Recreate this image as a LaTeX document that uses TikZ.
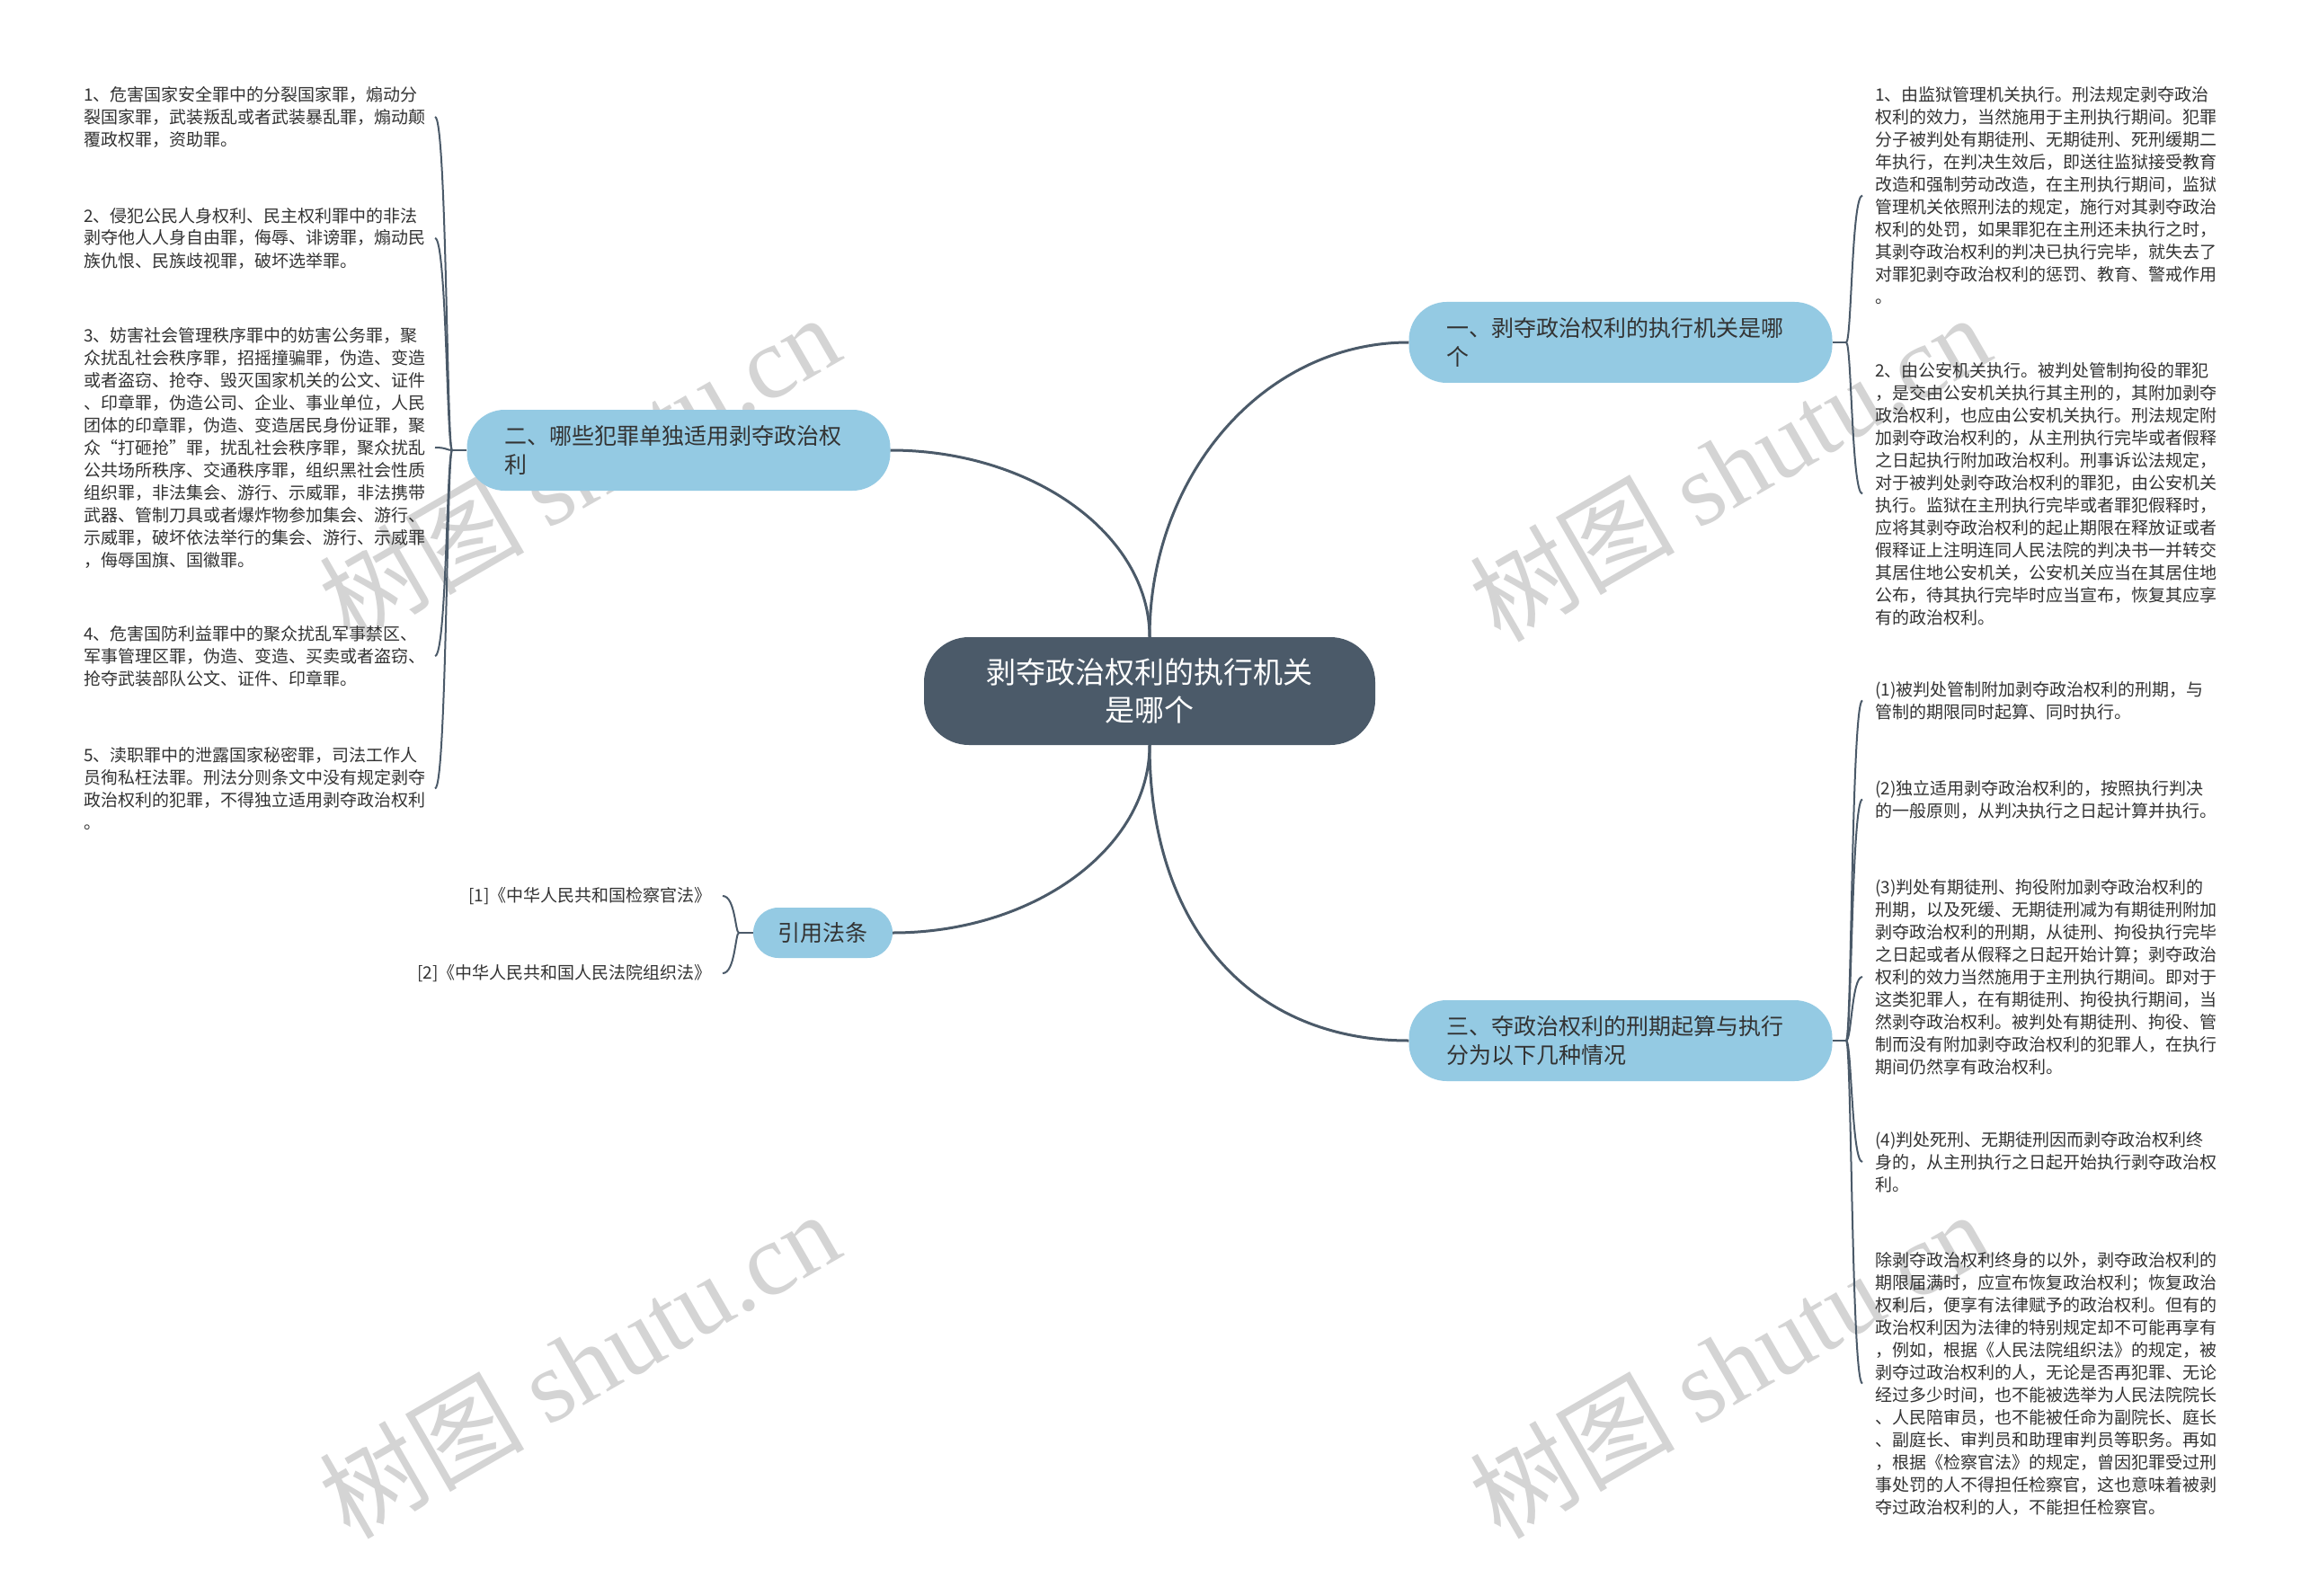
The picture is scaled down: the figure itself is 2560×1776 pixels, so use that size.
\documentclass[tikz,border=0pt]{standalone}
\usepackage{fontspec}
\setmainfont{Noto Sans CJK SC}
\newfontfamily\wmlatin{Liberation Serif}
\usetikzlibrary{calc}
\definecolor{cdark}{HTML}{4B5A69}
\definecolor{cblue}{HTML}{94CAE3}
\definecolor{ctext}{HTML}{333333}
\definecolor{cline}{HTML}{4B5A69}
\definecolor{cwm}{HTML}{D4D4D4}
\begin{document}
\begin{tikzpicture}[x=1pt,y=-1pt,
  root/.style={fill=cdark, rounded corners=50pt, minimum width=502pt, minimum height=120pt, text=white, align=center, font=\fontsize{33}{42}\selectfont, inner sep=0pt},
  branch/.style={fill=cblue, rounded corners=42pt, minimum height=90pt, text=ctext, align=left, text width=387pt, font=\fontsize{25}{32}\selectfont, inner xsep=42pt, inner ysep=0pt},
  refbox/.style={fill=cblue, rounded corners=28pt, minimum width=155pt, minimum height=56pt, text=ctext, font=\fontsize{25}{32}\selectfont, inner sep=0pt},
  leaf/.style={text=ctext, align=left, inner sep=0pt, font=\fontsize{19}{25}\selectfont, anchor=west},
  refleaf/.style={text=ctext, align=right, inner sep=0pt, font=\fontsize{19}{25}\selectfont, anchor=east},
  trunk/.style={draw=cline, line width=3pt},
  twig/.style={draw=cline, line width=2pt},
  wm/.style={rotate=30, text=cwm, font=\fontsize{114}{114}\selectfont, inner sep=0pt}
]
\useasboundingbox (0,0) rectangle (2560,1776);
\fill[white] (0,0) rectangle (2560,1776);

% watermarks
\node[wm] (w1) at (644,520) {树图 {\wmlatin shutu.cn}};
\node[wm] (w2) at (1924,520) {树图 {\wmlatin shutu.cn}};
\node[wm] (w3) at (644,1518) {树图 {\wmlatin shutu.cn}};
\node[wm] (w4) at (1924,1518) {树图 {\wmlatin shutu.cn}};

% main nodes
\node[root] (c) at (1279,769) {剥夺政治权利的执行机关\\是哪个};
\node[branch] (n1) at (1803,381) {一、剥夺政治权利的执行机关是哪\\个};
\node[branch] (n2) at (755,501) {二、哪些犯罪单独适用剥夺政治权\\利};
\node[branch] (n3) at (1803,1158) {三、夺政治权利的刑期起算与执行\\分为以下几种情况};
\node[refbox] (n4) at (915.5,1038) {引用法条};

% main connectors
\draw[trunk] (c.north) .. controls (1279,530) and (1405,381) .. (n1.west);
\draw[trunk] (c.north) .. controls (1279,595) and (1149,501) .. (n2.east);
\draw[trunk] (c.south) .. controls (1279,944) and (1150,1038) .. (n4.east);
\draw[trunk] (c.south) .. controls (1279,1030) and (1390,1158) .. (n3.west);

% left leaves
\node[leaf] (L1) at (93,130) {1、危害国家安全罪中的分裂国家罪，煽动分\\裂国家罪，武装叛乱或者武装暴乱罪，煽动颠\\覆政权罪，资助罪。};
\node[leaf] (L2) at (93,265) {2、侵犯公民人身权利、民主权利罪中的非法\\剥夺他人人身自由罪，侮辱、诽谤罪，煽动民\\族仇恨、民族歧视罪，破坏选举罪。};
\node[leaf] (L3) at (93,498) {3、妨害社会管理秩序罪中的妨害公务罪，聚\\众扰乱社会秩序罪，招摇撞骗罪，伪造、变造\\或者盗窃、抢夺、毁灭国家机关的公文、证件\\、印章罪，伪造公司、企业、事业单位，人民\\团体的印章罪，伪造、变造居民身份证罪，聚\\众“打砸抢”罪，扰乱社会秩序罪，聚众扰乱\\公共场所秩序、交通秩序罪，组织黑社会性质\\组织罪，非法集会、游行、示威罪，非法携带\\武器、管制刀具或者爆炸物参加集会、游行、\\示威罪，破坏依法举行的集会、游行、示威罪\\，侮辱国旗、国徽罪。};
\node[leaf] (L4) at (93,730) {4、危害国防利益罪中的聚众扰乱军事禁区、\\军事管理区罪，伪造、变造、买卖或者盗窃、\\抢夺武装部队公文、证件、印章罪。};
\node[leaf] (L5) at (93,877.5) {5、渎职罪中的泄露国家秘密罪，司法工作人\\员徇私枉法罪。刑法分则条文中没有规定剥夺\\政治权利的犯罪，不得独立适用剥夺政治权利\\。};

% right leaves (branch 1)
\node[leaf] (R1) at (2086,217.5) {1、由监狱管理机关执行。刑法规定剥夺政治\\权利的效力，当然施用于主刑执行期间。犯罪\\分子被判处有期徒刑、无期徒刑、死刑缓期二\\年执行，在判决生效后，即送往监狱接受教育\\改造和强制劳动改造，在主刑执行期间，监狱\\管理机关依照刑法的规定，施行对其剥夺政治\\权利的处罚，如果罪犯在主刑还未执行之时，\\其剥夺政治权利的判决已执行完毕，就失去了\\对罪犯剥夺政治权利的惩罚、教育、警戒作用\\。};
\node[leaf] (R2) at (2086,549.5) {2、由公安机关执行。被判处管制拘役的罪犯\\，是交由公安机关执行其主刑的，其附加剥夺\\政治权利，也应由公安机关执行。刑法规定附\\加剥夺政治权利的，从主刑执行完毕或者假释\\之日起执行附加政治权利。刑事诉讼法规定，\\对于被判处剥夺政治权利的罪犯，由公安机关\\执行。监狱在主刑执行完毕或者罪犯假释时，\\应将其剥夺政治权利的起止期限在释放证或者\\假释证上注明连同人民法院的判决书一并转交\\其居住地公安机关，公安机关应当在其居住地\\公布，待其执行完毕时应当宣布，恢复其应享\\有的政治权利。};

% right leaves (branch 3)
\node[leaf] (S1) at (2086,779.5) {(1)被判处管制附加剥夺政治权利的刑期，与\\管制的期限同时起算、同时执行。};
\node[leaf] (S2) at (2086,889.5) {(2)独立适用剥夺政治权利的，按照执行判决\\的一般原则，从判决执行之日起计算并执行。};
\node[leaf] (S3) at (2086,1087) {(3)判处有期徒刑、拘役附加剥夺政治权利的\\刑期，以及死缓、无期徒刑减为有期徒刑附加\\剥夺政治权利的刑期，从徒刑、拘役执行完毕\\之日起或者从假释之日起开始计算；剥夺政治\\权利的效力当然施用于主刑执行期间。即对于\\这类犯罪人，在有期徒刑、拘役执行期间，当\\然剥夺政治权利。被判处有期徒刑、拘役、管\\制而没有附加剥夺政治权利的犯罪人，在执行\\期间仍然享有政治权利。};
\node[leaf] (S4) at (2086,1293) {(4)判处死刑、无期徒刑因而剥夺政治权利终\\身的，从主刑执行之日起开始执行剥夺政治权\\利。};
\node[leaf] (S5) at (2086,1539.5) {除剥夺政治权利终身的以外，剥夺政治权利的\\期限届满时，应宣布恢复政治权利；恢复政治\\权利后，便享有法律赋予的政治权利。但有的\\政治权利因为法律的特别规定却不可能再享有\\，例如，根据《人民法院组织法》的规定，被\\剥夺过政治权利的人，无论是否再犯罪、无论\\经过多少时间，也不能被选举为人民法院院长\\、人民陪审员，也不能被任命为副院长、庭长\\、副庭长、审判员和助理审判员等职务。再如\\，根据《检察官法》的规定，曾因犯罪受过刑\\事处罚的人不得担任检察官，这也意味着被剥\\夺过政治权利的人，不能担任检察官。};

% reference leaves
\node[refleaf] (C1) at (792,997) {[1]《中华人民共和国检察官法》};
\node[refleaf] (C2) at (792,1083) {[2]《中华人民共和国人民法院组织法》};

% bracket helper coordinates
\coordinate (j2) at (503,501); \coordinate (k2) at (497,0); \coordinate (e2) at (484,0);
\coordinate (j1) at (2054,381); \coordinate (k1) at (2060,0); \coordinate (e1) at (2072,0);
\coordinate (j3) at (2054,1158);
\coordinate (j4) at (822,1038); \coordinate (k4) at (818,0); \coordinate (e4) at (804,0);

% left bracket
\draw[twig] (n2.west) -- (j2);
\foreach \l in {L1,L2,L3,L4,L5}
  \draw[twig] (j2) .. controls (j2 -| k2) and (\l.west -| k2) .. (\l.west -| e2);

% right bracket branch 1
\draw[twig] (n1.east) -- (j1);
\foreach \l in {R1,R2}
  \draw[twig] (j1) .. controls (j1 -| k1) and (\l.west -| k1) .. (\l.west -| e1);

% right bracket branch 3
\draw[twig] (n3.east) -- (j3);
\foreach \l in {S1,S2,S3,S4,S5}
  \draw[twig] (j3) .. controls (j3 -| k1) and (\l.west -| k1) .. (\l.west -| e1);

% reference bracket
\draw[twig] (n4.west) -- (j4);
\foreach \l in {C1,C2}
  \draw[twig] (j4) .. controls (j4 -| k4) and (\l.east -| k4) .. (\l.east -| e4);
\end{tikzpicture}
\end{document}
